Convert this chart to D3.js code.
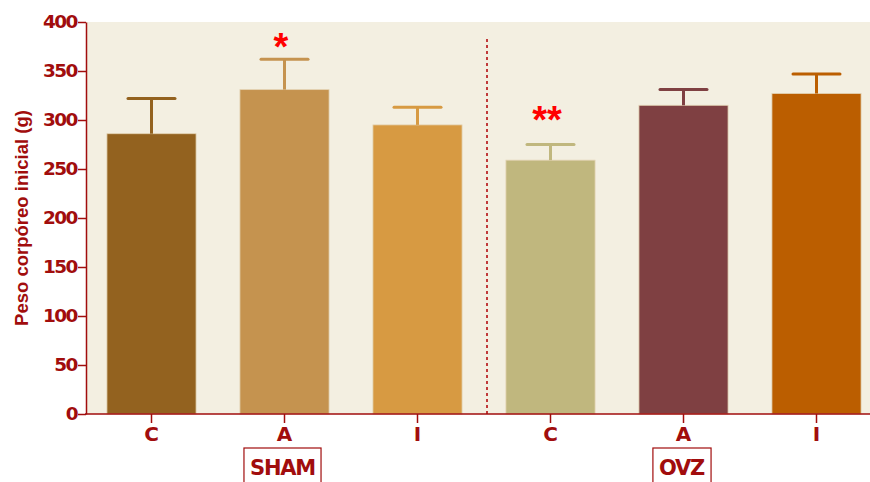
<!DOCTYPE html>
<html>
<head>
<meta charset="utf-8">
<script src="https://cdn.jsdelivr.net/npm/d3@7"></script>
<style>
  html, body { margin: 0; padding: 0; background: #ffffff; }
  svg { display: block; }
  text { font-weight: bold; }
</style>
</head>
<body>
<svg id="chart" width="870" height="482"></svg>
<script>
// Groups and treatments
const barKeys   = ["SHAM-C", "SHAM-A", "SHAM-I", "OVZ-C", "OVZ-A", "OVZ-I"];
const tickNames = ["C", "A", "I", "C", "A", "I"];
const groupNames = ["SHAM", "OVZ"];
const groupLabelBar = ["SHAM-A", "OVZ-A"];

// Initial body weight (g): mean and mean + error
const means  = [286, 331, 295, 259, 315, 327];
const upper  = [322, 362, 313, 275, 331, 347];
// significance marks and the level (g) they sit at
const marks      = ["", "*", "", "**", "", ""];
const markLevels = [0, 383, 0, 308, 0, 0];
const colors = ["#93621f", "#c5934f", "#d79a42", "#c0b77e", "#7f4042", "#bb5e00"];

const yTicks = [0, 50, 100, 150, 200, 250, 300, 350, 400];
const yTitle = "Peso corpóreo inicial (g)";

const axisColor = "#a10d0d";
const wideFont = "'DejaVu Sans', Verdana, sans-serif";
const textFont = "'Liberation Sans', Arial, sans-serif";
const plot = { left: 86, right: 870, top: 22, bottom: 414 };

const svg = d3.select("#chart");

const x = d3.scaleBand()
  .domain(barKeys)
  .range([85, 883])
  .paddingInner(0.33)
  .paddingOuter(0.165);

const y = d3.scaleLinear()
  .domain([0, 400])
  .range([plot.bottom, plot.top]);

// plot background
svg.append("rect")
  .attr("x", plot.left).attr("y", plot.top)
  .attr("width", plot.right - plot.left)
  .attr("height", plot.bottom - plot.top)
  .attr("fill", "#f3efe1");

// bars
svg.append("g").selectAll("rect")
  .data(barKeys)
  .join("rect")
  .attr("x", d => x(d))
  .attr("y", (d, i) => y(means[i]))
  .attr("width", x.bandwidth())
  .attr("height", (d, i) => y(0) - y(means[i]))
  .attr("fill", (d, i) => colors[i])
  .attr("stroke", "#e3d3b4")
  .attr("stroke-width", 0.8);

// error bars
const eb = svg.append("g");
barKeys.forEach((k, i) => {
  const cx = x(k) + x.bandwidth() / 2;
  eb.append("line")
    .attr("x1", cx).attr("x2", cx)
    .attr("y1", y(means[i])).attr("y2", y(upper[i]))
    .attr("stroke", colors[i]).attr("stroke-width", 3);
  eb.append("line")
    .attr("x1", cx - 23.5).attr("x2", cx + 23.5)
    .attr("y1", y(upper[i])).attr("y2", y(upper[i]))
    .attr("stroke", colors[i]).attr("stroke-width", 3)
    .attr("stroke-linecap", "round");
});

// significance marks
svg.append("g").selectAll("text")
  .data(barKeys.filter((d, i) => marks[i]))
  .join("text")
  .attr("x", d => x(d) + x.bandwidth() / 2 - 3.5)
  .attr("y", d => y(markLevels[barKeys.indexOf(d)]) + 21)
  .attr("text-anchor", "middle")
  .attr("fill", "#ff0000")
  .attr("font-family", textFont)
  .attr("font-size", 38)
  .text(d => marks[barKeys.indexOf(d)]);

// dashed separator between groups
const sepX = (x("SHAM-I") + x.bandwidth() + x("OVZ-C")) / 2 + 3;
svg.append("line")
  .attr("x1", sepX).attr("x2", sepX)
  .attr("y1", 39).attr("y2", plot.bottom)
  .attr("stroke", "#c03a3a").attr("stroke-width", 2)
  .attr("stroke-dasharray", "3,3");

// y axis
const yAxis = svg.append("g")
  .attr("transform", `translate(${plot.left},0)`)
  .call(d3.axisLeft(y).tickValues(yTicks).tickSize(8).tickSizeOuter(0).tickPadding(1));
yAxis.select(".domain").attr("stroke", axisColor).attr("stroke-width", 1.5);
yAxis.selectAll(".tick line").attr("stroke", axisColor).attr("stroke-width", 1.5);
yAxis.selectAll(".tick text")
  .attr("fill", axisColor)
  .attr("font-size", 18.5)
  .attr("font-family", wideFont)
  .attr("font-weight", "bold")
  .attr("letter-spacing", "-1.5");

// x axis
const xAxis = svg.append("g")
  .attr("transform", `translate(0,${plot.bottom})`)
  .call(d3.axisBottom(x).tickFormat((d, i) => tickNames[i]).tickSize(9).tickSizeOuter(0).tickPadding(4));
xAxis.select(".domain").remove();
xAxis.selectAll(".tick line").attr("stroke", axisColor).attr("stroke-width", 1.5);
xAxis.selectAll(".tick text")
  .attr("fill", axisColor)
  .attr("font-size", 20)
  .attr("font-family", wideFont)
  .attr("font-weight", "bold");
svg.append("line")
  .attr("x1", plot.left - 1).attr("x2", plot.right)
  .attr("y1", plot.bottom).attr("y2", plot.bottom)
  .attr("stroke", axisColor).attr("stroke-width", 1.5);

// group labels in boxes
groupNames.forEach((g, i) => {
  const cx = x(groupLabelBar[i]) + x.bandwidth() / 2;
  const t = svg.append("text")
    .attr("x", cx - 2)
    .attr("y", 475)
    .attr("text-anchor", "middle")
    .attr("fill", axisColor)
    .attr("font-family", wideFont)
    .attr("font-size", 21)
    .attr("letter-spacing", "-1.2")
    .text(g);
  const bb = t.node().getBBox();
  svg.append("rect")
    .attr("x", bb.x - 6).attr("y", 448)
    .attr("width", bb.width + 12).attr("height", 40)
    .attr("fill", "none")
    .attr("stroke", axisColor).attr("stroke-width", 1.2);
});

// y axis title
svg.append("text")
  .attr("transform", `translate(28,218) rotate(-90)`)
  .attr("text-anchor", "middle")
  .attr("fill", axisColor)
  .attr("font-family", textFont)
  .attr("font-size", 18.5)
  .text(yTitle);
</script>
</body>
</html>
